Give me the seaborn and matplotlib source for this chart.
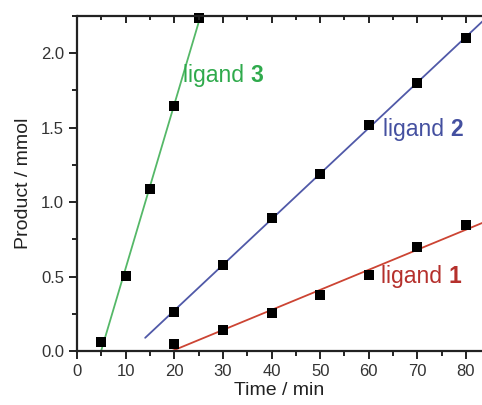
import numpy as np
import pandas as pd
import matplotlib
matplotlib.use("Agg")
import matplotlib.pyplot as plt
from matplotlib.ticker import MultipleLocator, FormatStrFormatter
import seaborn as sns

# --- datos ---
time_l1 = [20, 30, 40, 50, 60, 70, 80]
prod_l1 = [0.045, 0.143, 0.257, 0.375, 0.514, 0.699, 0.845]

time_l2 = [20, 30, 40, 50, 60, 70, 80]
prod_l2 = [0.263, 0.581, 0.893, 1.186, 1.515, 1.798, 2.10]

time_l3 = [5, 10, 15, 20, 25]
prod_l3 = [0.062, 0.503, 1.086, 1.647, 2.236]

ligands = ['1', '2', '3']

sns.set_theme(style="ticks")
plt.rcParams['font.family'] = ['Liberation Sans', 'DejaVu Sans']

colors_line = {'1': '#cc4433', '2': '#5059a8', '3': '#55b868'}
colors_text = {'1': '#b5302c', '2': '#4450a0', '3': '#2faa4c'}
# inicio de cada recta de ajuste (None = donde cruza y=0)
fit_start = {'1': None, '2': 14, '3': None}
label_pos = {'1': (62.5, 0.50), '2': (62.9, 1.49), '3': (21.8, 1.85)}

frames = []
for lig, t, p in zip(ligands, [time_l1, time_l2, time_l3], [prod_l1, prod_l2, prod_l3]):
    frames.append(pd.DataFrame({'Time': t, 'Product': p, 'Ligand': lig}))
df = pd.concat(frames, ignore_index=True)

fig = plt.figure(figsize=(4.82, 4.05), dpi=100)
ax = fig.add_axes([0.16, 0.133, 0.84, 0.828])

# rectas de ajuste
for lig in ligands:
    sub = df[df['Ligand'] == lig]
    m, b = np.polyfit(sub['Time'], sub['Product'], 1)
    x0 = fit_start[lig] if fit_start[lig] is not None else -b / m
    xs = np.linspace(x0, 95, 200)
    line_df = pd.DataFrame({'Time': xs, 'Product': m * xs + b})
    sns.lineplot(data=line_df, x='Time', y='Product', ax=ax,
                 color=colors_line[lig], linewidth=1.3, zorder=2)

# puntos experimentales
sns.scatterplot(data=df, x='Time', y='Product', ax=ax, marker='s', s=45,
                color='black', edgecolor='black', linewidth=0, zorder=3,
                legend=False, clip_on=False)

# etiquetas
for lig in ligands:
    x, y = label_pos[lig]
    t = ax.text(x, y, 'ligand ', color=colors_text[lig], fontsize=16.5,
                ha='left', va='center')
    ax.annotate(lig, xy=(1, 0), xycoords=t, va='bottom', ha='left',
                color=colors_text[lig], fontsize=16.5, fontweight='bold')

ax.set_xlim(0, 83.3)
ax.set_ylim(0, 2.25)
ax.xaxis.set_major_locator(MultipleLocator(10))
ax.xaxis.set_minor_locator(MultipleLocator(5))
ax.yaxis.set_major_locator(MultipleLocator(0.5))
ax.yaxis.set_minor_locator(MultipleLocator(0.25))
ax.yaxis.set_major_formatter(FormatStrFormatter('%.1f'))

ax.spines['right'].set_visible(False)
ax.spines['top'].set_visible(False)
for s in ['left', 'bottom']:
    ax.spines[s].set_linewidth(1.6)
    ax.spines[s].set_color('#222222')
# borde superior
ax.plot([0, 1], [1, 1], transform=ax.transAxes, color='#222222',
        linewidth=1.6, clip_on=False, zorder=5)

ax.tick_params(which='both', direction='out', color='#222222', width=1.4,
               labelsize=12, labelcolor='#333333', top=False, right=False,
               left=True, bottom=True)
ax.tick_params(which='major', length=6)
ax.tick_params(which='minor', length=3.5)

# ticks superiores hacia dentro
ax_top = ax.twiny()
ax_top.set_xlim(ax.get_xlim())
ax_top.xaxis.set_major_locator(MultipleLocator(10))
ax_top.xaxis.set_minor_locator(MultipleLocator(5))
ax_top.tick_params(which='both', direction='in', top=True, labeltop=False,
                   color='#222222', width=1.4)
ax_top.tick_params(which='major', length=5)
ax_top.tick_params(which='minor', length=3)
for s in ax_top.spines.values():
    s.set_visible(False)

ax.set_xlabel('Time / min', fontsize=14, color='#222222', labelpad=2)
ax.set_ylabel('Product / mmol', fontsize=14, color='#222222', labelpad=6)

fig.savefig('out.png', dpi=100, facecolor='white')
